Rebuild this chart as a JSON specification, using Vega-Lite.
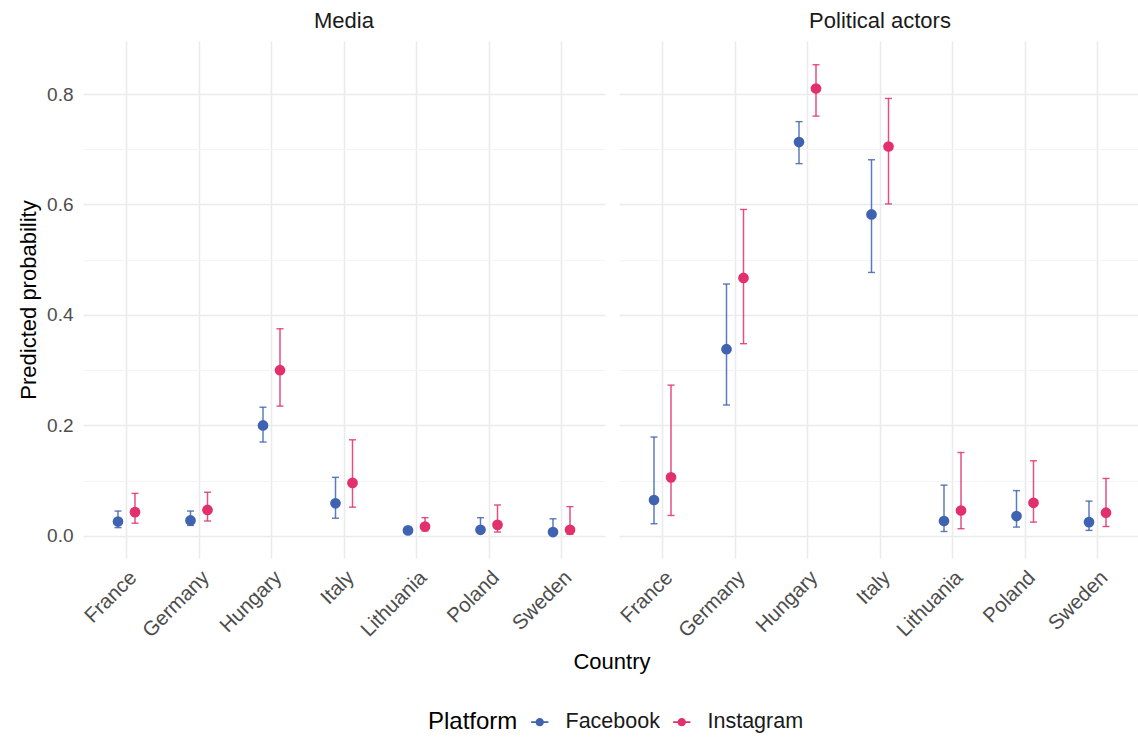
{
  "$schema": "https://vega.github.io/schema/vega-lite/v6.json",
  "padding": {"left": 17, "top": 10, "right": 0, "bottom": 5},
  "background": "white",
  "data": {"values": [
    {"panel": "Media", "country": "France", "platform": "Facebook", "p": 0.026, "lo": 0.015, "hi": 0.045},
    {"panel": "Media", "country": "France", "platform": "Instagram", "p": 0.043, "lo": 0.023, "hi": 0.077},
    {"panel": "Media", "country": "Germany", "platform": "Facebook", "p": 0.028, "lo": 0.019, "hi": 0.045},
    {"panel": "Media", "country": "Germany", "platform": "Instagram", "p": 0.047, "lo": 0.027, "hi": 0.079},
    {"panel": "Media", "country": "Hungary", "platform": "Facebook", "p": 0.200, "lo": 0.170, "hi": 0.233},
    {"panel": "Media", "country": "Hungary", "platform": "Instagram", "p": 0.300, "lo": 0.235, "hi": 0.375},
    {"panel": "Media", "country": "Italy", "platform": "Facebook", "p": 0.059, "lo": 0.032, "hi": 0.106},
    {"panel": "Media", "country": "Italy", "platform": "Instagram", "p": 0.096, "lo": 0.052, "hi": 0.174},
    {"panel": "Media", "country": "Lithuania", "platform": "Facebook", "p": 0.010, "lo": 0.005, "hi": 0.016},
    {"panel": "Media", "country": "Lithuania", "platform": "Instagram", "p": 0.017, "lo": 0.009, "hi": 0.033},
    {"panel": "Media", "country": "Poland", "platform": "Facebook", "p": 0.011, "lo": 0.006, "hi": 0.033},
    {"panel": "Media", "country": "Poland", "platform": "Instagram", "p": 0.020, "lo": 0.007, "hi": 0.056},
    {"panel": "Media", "country": "Sweden", "platform": "Facebook", "p": 0.007, "lo": 0.003, "hi": 0.031},
    {"panel": "Media", "country": "Sweden", "platform": "Instagram", "p": 0.011, "lo": 0.003, "hi": 0.053},
    {"panel": "Political actors", "country": "France", "platform": "Facebook", "p": 0.065, "lo": 0.022, "hi": 0.179},
    {"panel": "Political actors", "country": "France", "platform": "Instagram", "p": 0.106, "lo": 0.037, "hi": 0.273},
    {"panel": "Political actors", "country": "Germany", "platform": "Facebook", "p": 0.338, "lo": 0.237, "hi": 0.456},
    {"panel": "Political actors", "country": "Germany", "platform": "Instagram", "p": 0.467, "lo": 0.348, "hi": 0.591},
    {"panel": "Political actors", "country": "Hungary", "platform": "Facebook", "p": 0.713, "lo": 0.674, "hi": 0.750},
    {"panel": "Political actors", "country": "Hungary", "platform": "Instagram", "p": 0.810, "lo": 0.760, "hi": 0.853},
    {"panel": "Political actors", "country": "Italy", "platform": "Facebook", "p": 0.582, "lo": 0.477, "hi": 0.681},
    {"panel": "Political actors", "country": "Italy", "platform": "Instagram", "p": 0.705, "lo": 0.601, "hi": 0.792},
    {"panel": "Political actors", "country": "Lithuania", "platform": "Facebook", "p": 0.027, "lo": 0.008, "hi": 0.092},
    {"panel": "Political actors", "country": "Lithuania", "platform": "Instagram", "p": 0.046, "lo": 0.013, "hi": 0.151},
    {"panel": "Political actors", "country": "Poland", "platform": "Facebook", "p": 0.036, "lo": 0.016, "hi": 0.082},
    {"panel": "Political actors", "country": "Poland", "platform": "Instagram", "p": 0.060, "lo": 0.025, "hi": 0.136},
    {"panel": "Political actors", "country": "Sweden", "platform": "Facebook", "p": 0.025, "lo": 0.010, "hi": 0.063},
    {"panel": "Political actors", "country": "Sweden", "platform": "Instagram", "p": 0.042, "lo": 0.017, "hi": 0.104}
  ]},
  "facet": {
    "column": {
      "field": "panel", "type": "nominal", "sort": ["Media", "Political actors"],
      "title": "Country",
      "header": {
        "labelOrient": "top", "titleOrient": "bottom",
        "labelFontSize": 22, "labelColor": "#1A1A1A", "labelPadding": 8,
        "titleFontSize": 22, "titleFontWeight": "normal", "titleColor": "#000000", "titlePadding": 0
      }
    }
  },
  "spacing": 14,
  "spec": {
    "width": 522,
    "height": 517,
    "encoding": {
      "x": {
        "field": "country", "type": "nominal", "title": null,
        "scale": {"paddingInner": 0, "paddingOuter": 0.1},
        "axis": {
          "grid": true, "gridColor": "#EBEBEB", "gridWidth": 1.6,
          "domain": false, "ticks": false,
          "labelAngle": -45, "labelAlign": "right", "labelBaseline": "top",
          "labelFontSize": 20.5, "labelColor": "#4D4D4D", "labelPadding": 9
        }
      },
      "xOffset": {"field": "platform", "type": "nominal", "scale": {"type": "point", "padding": 0, "range": [27.75, 44.75]}},
      "color": {
        "field": "platform", "type": "nominal", "title": "Platform",
        "scale": {"domain": ["Facebook", "Instagram"], "range": ["#3F63B1", "#E1306C"]},
        "legend": {
          "orient": "none", "legendX": 345, "legendY": 670,
          "direction": "horizontal", "titleOrient": "left",
          "titleFontSize": 24, "titleFontWeight": "normal", "titleColor": "#000000", "titlePadding": 11,
          "labelFontSize": 21.5, "labelColor": "#1A1A1A",
          "symbolType": "M-1,-0.1L1,-0.1L1,0.1L-1,0.1Z M0.48,0A0.48,0.48 0 1,1 -0.48,0A0.48,0.48 0 1,1 0.48,0Z",
          "symbolSize": 300, "symbolStrokeWidth": 0, "symbolOpacity": 1,
          "columnPadding": 11, "labelOffset": 15
        }
      }
    },
    "layer": [
      {
        "mark": {"type": "rule", "strokeWidth": 1.5, "opacity": 0.85},
        "encoding": {
          "y": {"field": "lo", "type": "quantitative", "title": "Predicted probability",
                "scale": {"domain": [-0.04, 0.896], "nice": false, "zero": false}},
          "y2": {"field": "hi"}
        }
      },
      {
        "mark": {"type": "tick", "size": 7, "thickness": 1.4, "opacity": 0.85},
        "encoding": {"y": {"field": "lo", "type": "quantitative", "title": "Predicted probability"}}
      },
      {
        "mark": {"type": "tick", "size": 7, "thickness": 1.4, "opacity": 0.85},
        "encoding": {"y": {"field": "hi", "type": "quantitative", "title": "Predicted probability"}}
      },
      {
        "mark": {"type": "circle", "size": 115, "opacity": 1},
        "encoding": {"y": {"field": "p", "type": "quantitative", "title": "Predicted probability"}}
      }
    ]
  },
  "config": {
    "font": "Liberation Sans",
    "view": {"stroke": null},
    "axisY": {
      "values": [0, 0.1, 0.2, 0.3, 0.4, 0.5, 0.6, 0.7, 0.8],
      "labelExpr": "round(datum.value*10) % 2 == 0 ? format(datum.value, '.1f') : ''",
      "gridColor": {"condition": {"test": "round(datum.value*10) % 2 == 1", "value": "#F3F3F3"}, "value": "#EBEBEB"},
      "gridWidth": {"condition": {"test": "round(datum.value*10) % 2 == 1", "value": 0.9}, "value": 1.6},
      "domain": false, "ticks": false,
      "labelFontSize": 19, "labelColor": "#4D4D4D", "labelPadding": 10,
      "titleFontSize": 22, "titleFontWeight": "normal", "titleColor": "#000000", "titlePadding": 6
    }
  }
}
